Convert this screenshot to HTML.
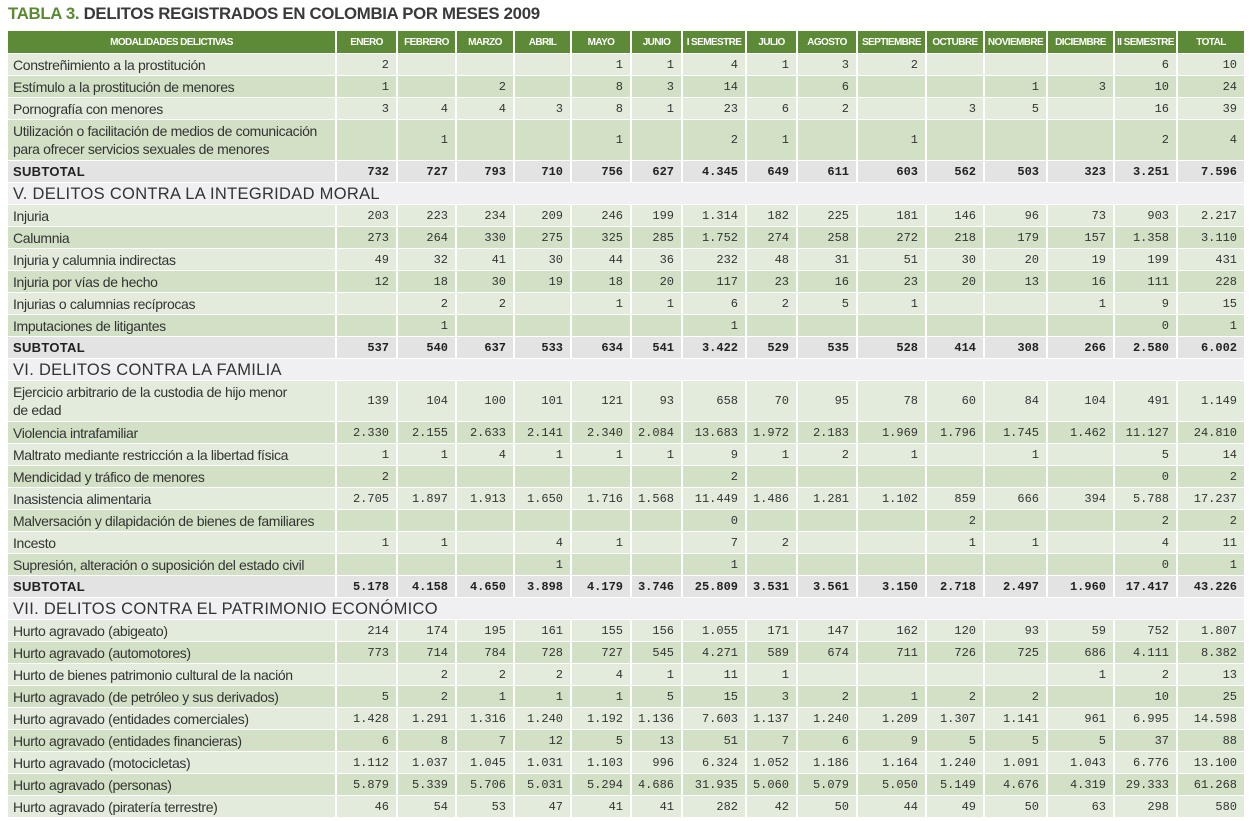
<!DOCTYPE html>
<html><head><meta charset="utf-8">
<style>
html,body{margin:0;padding:0;background:#fff;}
body{width:1251px;height:821px;position:relative;overflow:hidden;font-family:"Liberation Sans",sans-serif;}
#title{position:absolute;left:8px;top:4px;font-size:16.8px;font-weight:bold;color:#3a3a3a;letter-spacing:-0.3px;white-space:nowrap;}
#title span{color:#5a8a32;}
.row{position:absolute;left:8px;width:1238px;display:flex;box-sizing:border-box;border-bottom:1px solid #fff;}
.cell{box-sizing:border-box;border-right:2px solid #fff;height:100%;display:flex;align-items:center;justify-content:flex-end;padding-right:7px;font-family:"Liberation Mono",monospace;font-size:12px;color:#333;}
.cell.lab{justify-content:flex-start;padding-left:5px;font-family:"Liberation Sans",sans-serif;font-size:14px;letter-spacing:-0.35px;line-height:18px;color:#333;white-space:nowrap;overflow:hidden;}
.hdr{background:#5c8a37;}
.hdr .cell{justify-content:center;padding:0;color:#fff;font-family:"Liberation Sans",sans-serif;font-weight:bold;font-size:10px;letter-spacing:-0.6px;white-space:nowrap;}
.light{background:#e3ecdc;}
.dark{background:#d2e1c6;}
.sub{background:#e3e3e3;}
.sub .cell{font-weight:bold;color:#222;}
.sub .cell.lab{font-weight:bold;font-size:13px;letter-spacing:0.3px;}
.sec{background:#f0f0f2;}
.sec .cell.lab{font-size:16.5px;color:#333;letter-spacing:0.3px;}
</style></head><body>
<div id="title"><span>TABLA 3.</span> DELITOS REGISTRADOS EN COLOMBIA POR MESES 2009</div>
<div id="tbl"></div>
<script>
const headers=["MODALIDADES DELICTIVAS","ENERO","FEBRERO","MARZO","ABRIL","MAYO","JUNIO","I SEMESTRE","JULIO","AGOSTO","SEPTIEMBRE","OCTUBRE","NOVIEMBRE","DICIEMBRE","II SEMESTRE","TOTAL"];
const widths=[329,61,59,58,57,60,51,64,51,60,69,58,63,67,63,68];
const rows=[
["d","Constreñimiento a la prostitución","2,,,,1,1,4,1,3,2,,,,6,10"],
["d","Estímulo a la prostitución de menores","1,,2,,8,3,14,,6,,,1,3,10,24"],
["d","Pornografía con menores","3,4,4,3,8,1,23,6,2,,3,5,,16,39"],
["t","Utilización o facilitación de medios de comunicación<br>para ofrecer servicios sexuales de menores",",1,,,1,,2,1,,1,,,,2,4"],
["s","SUBTOTAL","732,727,793,710,756,627,4.345,649,611,603,562,503,323,3.251,7.596"],
["h","V. DELITOS CONTRA LA INTEGRIDAD MORAL",""],
["d","Injuria","203,223,234,209,246,199,1.314,182,225,181,146,96,73,903,2.217"],
["d","Calumnia","273,264,330,275,325,285,1.752,274,258,272,218,179,157,1.358,3.110"],
["d","Injuria y calumnia indirectas","49,32,41,30,44,36,232,48,31,51,30,20,19,199,431"],
["d","Injuria por vías de hecho","12,18,30,19,18,20,117,23,16,23,20,13,16,111,228"],
["d","Injurias o calumnias recíprocas",",2,2,,1,1,6,2,5,1,,,1,9,15"],
["d","Imputaciones de litigantes",",1,,,,,1,,,,,,,0,1"],
["s","SUBTOTAL","537,540,637,533,634,541,3.422,529,535,528,414,308,266,2.580,6.002"],
["h","VI. DELITOS CONTRA LA FAMILIA",""],
["t","Ejercicio arbitrario de la custodia de hijo menor<br>de edad","139,104,100,101,121,93,658,70,95,78,60,84,104,491,1.149"],
["d","Violencia intrafamiliar","2.330,2.155,2.633,2.141,2.340,2.084,13.683,1.972,2.183,1.969,1.796,1.745,1.462,11.127,24.810"],
["d","Maltrato mediante restricción a la libertad física","1,1,4,1,1,1,9,1,2,1,,1,,5,14"],
["d","Mendicidad y tráfico de menores","2,,,,,,2,,,,,,,0,2"],
["d","Inasistencia alimentaria","2.705,1.897,1.913,1.650,1.716,1.568,11.449,1.486,1.281,1.102,859,666,394,5.788,17.237"],
["d","Malversación y dilapidación de bienes de familiares",",,,,,,0,,,,2,,,2,2"],
["d","Incesto","1,1,,4,1,,7,2,,,1,1,,4,11"],
["d","Supresión, alteración o suposición del estado civil",",,,1,,,1,,,,,,,0,1"],
["s","SUBTOTAL","5.178,4.158,4.650,3.898,4.179,3.746,25.809,3.531,3.561,3.150,2.718,2.497,1.960,17.417,43.226"],
["h","VII. DELITOS CONTRA EL PATRIMONIO ECONÓMICO",""],
["d","Hurto agravado (abigeato)","214,174,195,161,155,156,1.055,171,147,162,120,93,59,752,1.807"],
["d","Hurto agravado (automotores)","773,714,784,728,727,545,4.271,589,674,711,726,725,686,4.111,8.382"],
["d","Hurto de bienes patrimonio cultural de la nación",",2,2,2,4,1,11,1,,,,,1,2,13"],
["d","Hurto agravado (de petróleo y sus derivados)","5,2,1,1,1,5,15,3,2,1,2,2,,10,25"],
["d","Hurto agravado (entidades comerciales)","1.428,1.291,1.316,1.240,1.192,1.136,7.603,1.137,1.240,1.209,1.307,1.141,961,6.995,14.598"],
["d","Hurto agravado (entidades financieras)","6,8,7,12,5,13,51,7,6,9,5,5,5,37,88"],
["d","Hurto agravado (motocicletas)","1.112,1.037,1.045,1.031,1.103,996,6.324,1.052,1.186,1.164,1.240,1.091,1.043,6.776,13.100"],
["d","Hurto agravado (personas)","5.879,5.339,5.706,5.031,5.294,4.686,31.935,5.060,5.079,5.050,5.149,4.676,4.319,29.333,61.268"],
["d","Hurto agravado (piratería terrestre)","46,54,53,47,41,41,282,42,50,44,49,50,63,298,580"]
];
const tbl=document.getElementById('tbl');
function mkRow(cls,top,h){
  const r=document.createElement('div');
  r.className='row '+cls;
  r.style.top=top+'px';r.style.height=h+'px';
  tbl.appendChild(r);return r;
}
const hr=mkRow('hdr',31,23);


headers.forEach((t,i)=>{
  const c=document.createElement('div');
  c.className='cell';c.style.width=widths[i]+'px';c.textContent=t;
  
  
  hr.appendChild(c);
});
let y=54,alt=0;
rows.forEach(rw=>{
  const type=rw[0];
  const h=type==='t'?41:22;
  let cls;
  if(type==='s')cls='sub';
  else if(type==='h'){cls='sec';alt=0;}
  else {cls=alt%2===0?'light':'dark';alt++;}
  const r=mkRow(cls,y,h);
  if(type==='s'){}
  else if(type==='h'){}
  else{}
  
  const lab=document.createElement('div');
  lab.className='cell lab';
  lab.style.width=(type==='h'?1238:widths[0])+'px';
  lab.innerHTML=rw[1];
  
  
  r.appendChild(lab);
  if(type!=='h'){
    rw[2].split(',').forEach((v,i)=>{
      const c=document.createElement('div');
      c.className='cell';c.style.width=widths[i+1]+'px';c.textContent=v;
      
      
      r.appendChild(c);
    });
  }
  y+=h;
});
</script>
</body></html>
